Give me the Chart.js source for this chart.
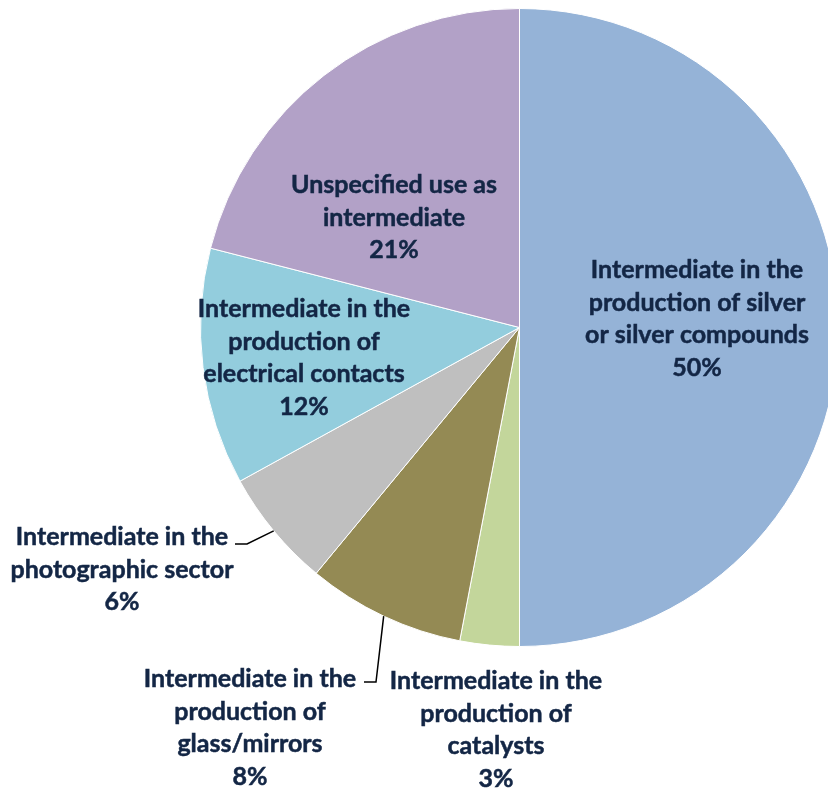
<!DOCTYPE html>
<html>
<head>
<meta charset="utf-8">
<script src="https://cdn.jsdelivr.net/npm/chart.js@4/dist/chart.umd.min.js"></script>
<style>
  html, body { margin: 0; padding: 0; background: #fff; overflow: hidden; }
  #wrap { width: 828px; height: 789px; overflow: hidden; position: relative; }
  canvas { display: block; }
</style>
</head>
<body>
<div id="wrap"><canvas id="useChart" width="850" height="789"></canvas></div>
<script>
// categories (clockwise from 12 o'clock)
const categories = [
  'Intermediate in the production of silver or silver compounds',
  'Intermediate in the production of catalysts',
  'Intermediate in the production of glass/mirrors',
  'Intermediate in the photographic sector',
  'Intermediate in the production of electrical contacts',
  'Unspecified use as intermediate'
];
// label text, broken into lines like the reference
const labelLines = [
  ['Intermediate in the', 'production of silver', 'or silver compounds'],
  ['Intermediate in the', 'production of', 'catalysts'],
  ['Intermediate in the', 'production of', 'glass/mirrors'],
  ['Intermediate in the', 'photographic sector'],
  ['Intermediate in the', 'production of', 'electrical contacts'],
  ['Unspecified use as', 'intermediate']
];
// share of use, %
const shares = [50, 3, 8, 6, 12, 21];
const colors = ['#95B3D7', '#C3D69B', '#948A54', '#BFBFBF', '#93CDDD', '#B2A1C7'];

// label placement (centre x, first line y) and leader elbows for outside labels
const labelPos = [
  [697, 270], [496, 681], [250, 679], [122, 537], [304, 309], [394, 185]
];
const leaders = {
  2: [[376, 682], [364, 682]],
  3: [[247, 544], [235, 544]]
};

const labelPlugin = {
  id: 'pieLabels',
  afterDraw(chart) {
    const ctx = chart.ctx;
    const arcs = chart.getDatasetMeta(0).data;
    ctx.save();
    // leader lines
    ctx.strokeStyle = '#000';
    ctx.lineWidth = 1.5;
    Object.keys(leaders).forEach(k => {
      const a = arcs[k].getProps(['x', 'y', 'startAngle', 'endAngle', 'outerRadius'], true);
      const mid = (a.startAngle + a.endAngle) / 2;
      ctx.beginPath();
      ctx.moveTo(a.x + Math.cos(mid) * a.outerRadius, a.y + Math.sin(mid) * a.outerRadius);
      leaders[k].forEach(p => ctx.lineTo(p[0], p[1]));
      ctx.stroke();
    });
    // text
    ctx.fillStyle = '#132645';
    ctx.font = 'bold 25px Lato';
    ctx.textAlign = 'center';
    ctx.textBaseline = 'middle';
    const lh = 32.7;
    labelLines.forEach((lines, i) => {
      const all = lines.concat([shares[i] + '%']);
      all.forEach((t, j) => {
        // slight stroke to thicken strokes towards the reference's heavier face
        ctx.lineWidth = 0.5;
        ctx.strokeStyle = '#132645';
        ctx.strokeText(t, labelPos[i][0], labelPos[i][1] + j * lh);
        ctx.fillText(t, labelPos[i][0], labelPos[i][1] + j * lh);
      });
    });
    ctx.restore();
  }
};

new Chart(document.getElementById('useChart'), {
  type: 'pie',
  data: {
    labels: categories,
    datasets: [{
      data: shares,
      backgroundColor: colors,
      borderColor: '#ffffff',
      borderWidth: 1
    }]
  },
  options: {
    responsive: false,
    animation: false,
    layout: { padding: { left: 200, right: 11, top: 8, bottom: 142 } },
    plugins: {
      legend: { display: false },
      tooltip: { enabled: false }
    }
  },
  plugins: [labelPlugin]
});
</script>
</body>
</html>
